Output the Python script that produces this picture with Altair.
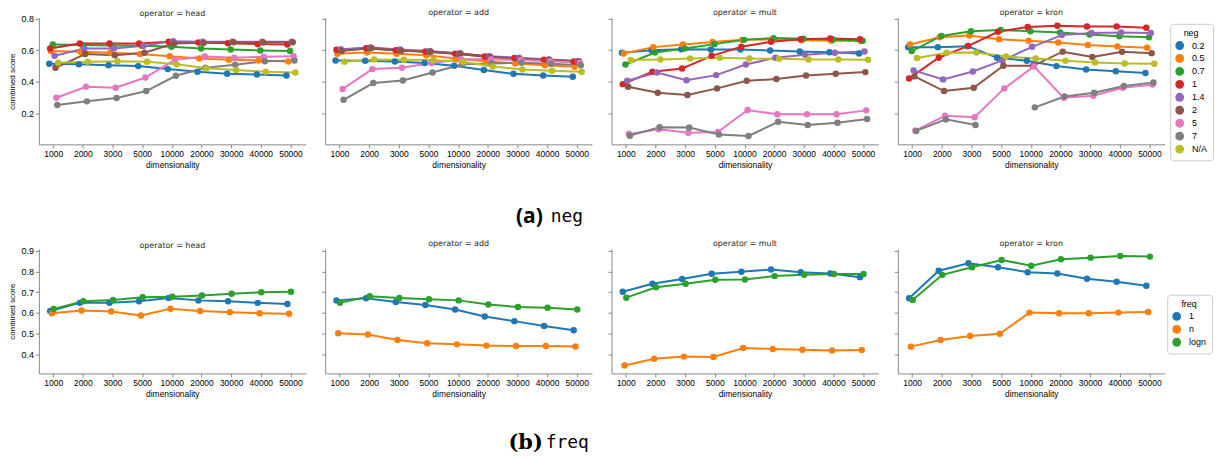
import altair as alt
import pandas as pd

dims = ["1000", "2000", "3000", "5000", "10000", "20000", "30000", "40000", "50000"]
operators = ["head", "add", "mult", "kron"]
neg_levels = ["0.2", "0.5", "0.7", "1", "1.4", "2", "5", "7", "N/A"]
freq_levels = ["1", "n", "logn"]
tab10 = ["#1f77b4", "#ff7f0e", "#2ca02c", "#d62728", "#9467bd",
         "#8c564b", "#e377c2", "#7f7f7f", "#bcbd22"]

neg_head = {
    "0.2": [0.514, 0.51, 0.505, 0.499, 0.48, 0.463, 0.45, 0.446, 0.44],
    "0.5": [0.594, 0.59, 0.583, 0.575, 0.562, 0.547, 0.539, 0.535, 0.528],
    "0.7": [0.636, 0.632, 0.63, 0.627, 0.621, 0.61, 0.604, 0.598, 0.594],
    "1": [0.61, 0.642, 0.642, 0.642, 0.653, 0.648, 0.644, 0.638, 0.636],
    "1.4": [0.564, 0.61, 0.61, 0.627, 0.657, 0.653, 0.653, 0.653, 0.653],
    "2": [0.488, 0.575, 0.568, 0.583, 0.642, 0.646, 0.65, 0.648, 0.65],
    "5": [0.299, 0.368, 0.362, 0.427, 0.539, 0.56, 0.552, 0.558, 0.562],
    "7": [0.253, 0.276, 0.297, 0.341, 0.438, 0.488, 0.507, 0.53, 0.535],
    "N/A": [0.52, 0.526, 0.53, 0.526, 0.51, 0.486, 0.474, 0.463, 0.459],
}
neg_add = {
    "0.2": [0.535, 0.533, 0.528, 0.518, 0.501, 0.474, 0.45, 0.44, 0.432],
    "0.5": [0.577, 0.585, 0.577, 0.568, 0.547, 0.53, 0.516, 0.505, 0.495],
    "0.7": [0.6, 0.61, 0.6, 0.59, 0.575, 0.558, 0.547, 0.537, 0.526],
    "1": [0.602, 0.612, 0.6, 0.592, 0.578, 0.56, 0.55, 0.54, 0.528],
    "1.4": [0.606, 0.617, 0.604, 0.594, 0.579, 0.562, 0.552, 0.541, 0.53],
    "2": [0.594, 0.613, 0.596, 0.59, 0.579, 0.558, 0.545, 0.539, 0.53],
    "5": [0.354, 0.48, 0.488, 0.518, 0.543, 0.543, 0.537, 0.53, 0.52],
    "7": [0.286, 0.392, 0.408, 0.459, 0.51, 0.516, 0.52, 0.514, 0.505],
    "N/A": [0.526, 0.541, 0.539, 0.537, 0.526, 0.497, 0.478, 0.47, 0.463],
}
neg_mult = {
    "0.2": [0.583, 0.6, 0.606, 0.604, 0.604, 0.598, 0.592, 0.587, 0.579],
    "0.5": [0.579, 0.619, 0.636, 0.651, 0.665, 0.669, 0.663, 0.659, 0.657],
    "0.7": [0.509, 0.585, 0.61, 0.638, 0.665, 0.676, 0.672, 0.667, 0.659],
    "1": [0.385, 0.463, 0.484, 0.564, 0.621, 0.653, 0.669, 0.674, 0.669],
    "1.4": [0.406, 0.459, 0.41, 0.442, 0.509, 0.552, 0.571, 0.583, 0.592],
    "2": [0.368, 0.331, 0.316, 0.358, 0.406, 0.417, 0.44, 0.45, 0.461],
    "5": [0.07, 0.099, 0.078, 0.082, 0.221, 0.194, 0.194, 0.194, 0.219],
    "7": [0.059, 0.112, 0.11, 0.067, 0.057, 0.147, 0.126, 0.141, 0.164],
    "N/A": [0.537, 0.541, 0.547, 0.552, 0.547, 0.545, 0.541, 0.541, 0.539],
}
neg_kron = {
    "0.2": [0.619, 0.619, 0.625, 0.552, 0.533, 0.499, 0.478, 0.467, 0.455],
    "0.5": [0.636, 0.682, 0.693, 0.669, 0.659, 0.648, 0.632, 0.623, 0.615],
    "0.7": [0.594, 0.69, 0.72, 0.728, 0.72, 0.712, 0.699, 0.688, 0.682],
    "1": [0.421, 0.552, 0.627, 0.716, 0.747, 0.754, 0.749, 0.749, 0.741],
    "1.4": [0.472, 0.415, 0.465, 0.535, 0.621, 0.695, 0.709, 0.712, 0.709],
    "2": [0.434, 0.341, 0.362, 0.501, 0.501, 0.59, 0.556, 0.59, 0.581],
    "5": [0.091, 0.185, 0.175, 0.358, 0.497, 0.299, 0.312, 0.362, 0.383],
    "7": [0.089, 0.162, 0.126, None, 0.238, 0.307, 0.331, 0.373, 0.396],
    "N/A": [0.55, 0.583, 0.585, 0.56, 0.547, 0.533, 0.522, 0.516, 0.514],
}
freq_head = {
    "1": [0.609, 0.648, 0.648, 0.656, 0.672, 0.66, 0.656, 0.648, 0.643],
    "n": [0.598, 0.611, 0.606, 0.587, 0.62, 0.609, 0.603, 0.598, 0.596],
    "logn": [0.619, 0.656, 0.662, 0.675, 0.678, 0.684, 0.692, 0.699, 0.702],
}
freq_add = {
    "1": [0.66, 0.67, 0.652, 0.638, 0.616, 0.582, 0.56, 0.537, 0.516],
    "n": [0.502, 0.496, 0.469, 0.453, 0.448, 0.442, 0.44, 0.44, 0.438],
    "logn": [0.648, 0.68, 0.672, 0.665, 0.66, 0.64, 0.628, 0.624, 0.616],
}
freq_mult = {
    "1": [0.702, 0.74, 0.763, 0.788, 0.798, 0.809, 0.796, 0.79, 0.772],
    "n": [0.346, 0.379, 0.389, 0.387, 0.43, 0.426, 0.422, 0.419, 0.421],
    "logn": [0.673, 0.723, 0.74, 0.759, 0.761, 0.777, 0.783, 0.787, 0.787],
}
freq_kron = {
    "1": [0.67, 0.803, 0.839, 0.82, 0.796, 0.79, 0.764, 0.75, 0.731],
    "n": [0.437, 0.469, 0.488, 0.499, 0.601, 0.598, 0.598, 0.601, 0.604],
    "logn": [0.662, 0.783, 0.82, 0.855, 0.827, 0.858, 0.866, 0.874, 0.871],
}

neg_ticks = [0.2, 0.4, 0.6, 0.8]
freq_ticks = [0.4, 0.5, 0.6, 0.7, 0.8, 0.9]
caption_a = ["(a)", "neg"]
caption_b = ["(b)", "freq"]

FONT = "DejaVu Sans"
PW, GAP = 268, 15.5
BAND = PW / len(dims)
DODGE = 0.3 * BAND
NOVIEW = alt.ViewBackground(stroke="transparent", strokeWidth=0)


def to_df(tables):
    rows = []
    for op, table in zip(operators, tables):
        for lvl, vals in table.items():
            for d, v in zip(dims, vals):
                rows.append({"operator": op, "level": lvl, "dim": d, "score": v})
    return pd.DataFrame(rows)


def panel(df, op, levels, colors, ydom, yticks, height, first, legend):
    yaxis = dict(values=yticks, format=".1f", tickSize=3.5, labelFontSize=9, grid=False,
                 titleFontSize=8, titleFontWeight="normal", titlePadding=4)
    if first:
        yaxis["title"] = "combined score"
    else:
        yaxis["title"] = None
        yaxis["labels"] = False
    base = alt.Chart(df[df.operator == op]).encode(
        x=alt.X("dim:O", sort=dims,
                scale=alt.Scale(type="band", paddingInner=0, paddingOuter=0),
                axis=alt.Axis(title="dimensionality", labelAngle=0, tickSize=3.5, grid=False,
                              labelFontSize=8.5, titleFontSize=8.5, labelPadding=2,
                              titleFontWeight="normal", titlePadding=2)),
        xOffset=alt.XOffset("level:N", sort=levels,
                            scale=alt.Scale(type="point", padding=0,
                                            range=[BAND / 2 - DODGE / 2, BAND / 2 + DODGE / 2])),
        y=alt.Y("score:Q", scale=alt.Scale(domain=ydom, nice=False, zero=False),
                axis=alt.Axis(**yaxis)),
        color=alt.Color("level:N", sort=levels,
                        scale=alt.Scale(domain=levels, range=colors),
                        legend=legend),
    )
    line = base.mark_line(strokeWidth=2, invalid="break-paths-filter-domains")
    pts = base.mark_circle(size=42, opacity=1)
    return alt.layer(line, pts).properties(
        width=PW, height=height, view=NOVIEW,
        title=alt.TitleParams(f"operator = {op}", fontSize=8, fontWeight="normal",
                              font=FONT, offset=1, frame="group", color="#262626",
                              dy=4 if first else 0))


def caption(labels, bold_font, x1, x2, height, ty):
    d1 = pd.DataFrame({"t": [labels[0]]})
    d2 = pd.DataFrame({"t": [labels[1]]})
    t1 = alt.Chart(d1).mark_text(align="right", baseline="middle", font=bold_font,
                                 fontWeight="bold", fontSize=21, color="black").encode(
        text="t:N", x=alt.value(x1), y=alt.value(ty))
    t2 = alt.Chart(d2).mark_text(align="left", baseline="middle", font="DejaVu Sans Mono",
                                 fontSize=18, color="black").encode(
        text="t:N", x=alt.value(x2), y=alt.value(ty))
    return alt.layer(t1, t2).properties(width=1150, height=height, view=NOVIEW)


neg_df = to_df([neg_head, neg_add, neg_mult, neg_kron])
freq_df = to_df([freq_head, freq_add, freq_mult, freq_kron])


def make_legend(title, lx, ly):
    return alt.Legend(title=title, orient="none", legendX=lx, legendY=ly,
                      symbolType="circle", symbolSize=55, labelFontSize=9, titleFontSize=9,
                      titleFontWeight="normal", titleAnchor="middle", titleAlign="center",
                      strokeColor="#cccccc", fillColor="white", cornerRadius=3, padding=5,
                      rowPadding=1, clipHeight=11.5, titlePadding=2, labelOffset=8)


row_a = alt.hconcat(*[
    panel(neg_df, op, neg_levels, tab10, [0.004, 0.804], neg_ticks, 127, i == 0,
          make_legend("neg", 1136, 6))
    for i, op in enumerate(operators)], spacing=GAP).resolve_scale(color="shared")
row_b = alt.hconcat(*[
    panel(freq_df, op, freq_levels, tab10[:3], [0.308, 0.908], freq_ticks, 125, i == 0,
          make_legend("freq", 1133, 46))
    for i, op in enumerate(operators)], spacing=GAP).resolve_scale(color="shared")

cap_a = caption(caption_a, "Open Sans", 506, 514, 71, 48)
cap_b = caption(caption_b, "DejaVu Serif", 506, 509, 52, 45)

chart = alt.vconcat(row_a, cap_a, row_b, cap_b, spacing=0).resolve_scale(
    color="independent", y="independent", x="independent"
).properties(padding={"top": 0, "left": 0, "right": 0, "bottom": 0}).configure_view(
    stroke="transparent", strokeWidth=0).configure_axis(
    domainColor="#262626", tickColor="#262626", labelColor="#262626",
    titleColor="#262626", labelFont=FONT, titleFont=FONT, grid=False, domainWidth=1.1,
    tickWidth=1
).configure_legend(labelFont=FONT, titleFont=FONT, labelColor="#262626",
                   titleColor="#262626").configure(background="white")

chart.save("out.html", embed_options={"renderer": "svg", "actions": False})
